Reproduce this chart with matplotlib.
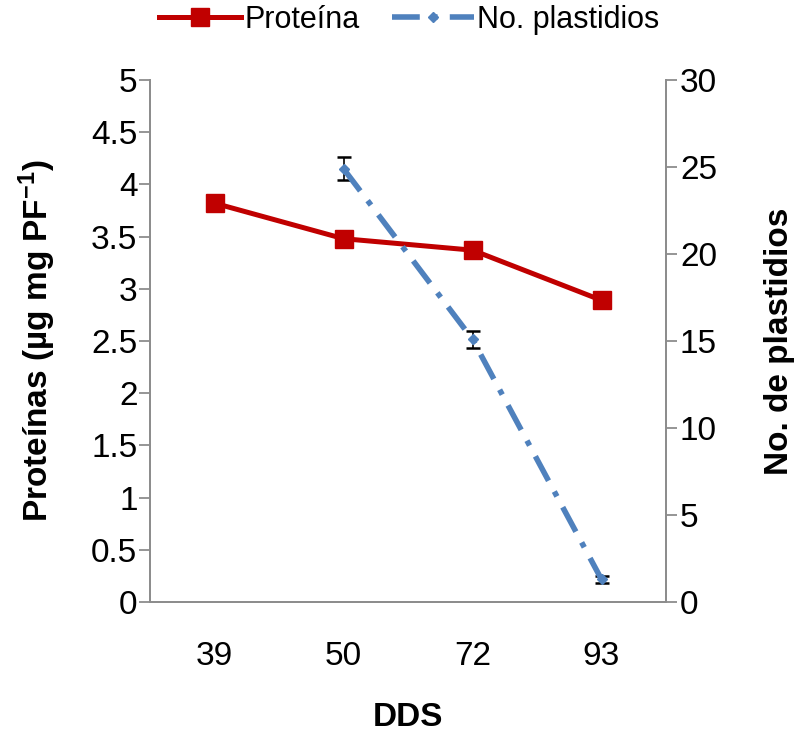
import matplotlib
matplotlib.use("Agg")
import matplotlib.pyplot as plt
import numpy as np

plt.rcParams['font.family'] = ['Liberation Sans', 'DejaVu Sans']
plt.rcParams['mathtext.fontset'] = 'custom'
plt.rcParams['mathtext.rm'] = 'Liberation Sans'
plt.rcParams['mathtext.bf'] = 'Liberation Sans:bold'

categories = ["39", "50", "72", "93"]
proteina = [3.82, 3.48, 3.37, 2.89]
plastidios = [np.nan, 24.9, 15.1, 1.3]
plastidios_err = [np.nan, 0.65, 0.5, 0.22]

fig = plt.figure(figsize=(8.02, 7.34), dpi=100)
ax = fig.add_axes([150/802, 132/734, 516/802, 522/734])
ax2 = ax.twinx()

x = np.arange(len(categories))
spine_c = '#8c8c8c'

l1, = ax.plot(x, proteina, color='#C00000', lw=3.6, marker='s', markersize=13,
              label='Proteína', zorder=3)
ax.set_ylim(0, 5)
ax.set_yticks(np.arange(0, 5.01, 0.5))
ax.set_yticklabels(['0', '0.5', '1', '1.5', '2', '2.5', '3', '3.5', '4', '4.5', '5'])
ax.set_xlim(-0.5, 3.5)
ax.set_xticks(x)
ax.set_xticklabels(categories)

ax2.errorbar(x, plastidios, yerr=plastidios_err, fmt='none', ecolor='black',
             elinewidth=1.2, capsize=5, capthick=1.8, zorder=4)
l2, = ax2.plot(x, plastidios, color='#4F81BD', lw=4, linestyle=(0, (5, 2.2, 1, 2.2)),
               marker='D', markersize=5, label='No. plastidios', zorder=5)
ax2.set_ylim(0, 30)
ax2.set_yticks(np.arange(0, 31, 5))

for a in (ax, ax2):
    for s in a.spines.values():
        s.set_color(spine_c)
        s.set_linewidth(1.3)
    a.spines['top'].set_visible(False)

ax.tick_params(axis='y', direction='out', length=8, width=1.3, color=spine_c,
               labelsize=24, pad=1)
ax.tick_params(axis='x', length=0, labelsize=24, pad=28)
ax2.tick_params(axis='y', direction='out', length=8, width=1.3, color=spine_c,
                labelsize=24, pad=2)

ax.set_xlabel('DDS', fontsize=24, fontweight='bold', labelpad=22)
ax.set_ylabel('Proteínas (µg mg PF$\\mathbf{^{-1}}$)', fontsize=24, fontweight='bold', labelpad=24)
ax2.set_ylabel('No. de plastidios', fontsize=24, fontweight='bold', labelpad=34)

fig.legend(handles=[l1, l2], loc='center', bbox_to_anchor=(409/802, 1 - 20/734),
           ncol=2, frameon=False, fontsize=22, handlelength=2.7, columnspacing=1.05,
           handletextpad=0.1, borderaxespad=0)

fig.savefig('out.png', dpi=100)
